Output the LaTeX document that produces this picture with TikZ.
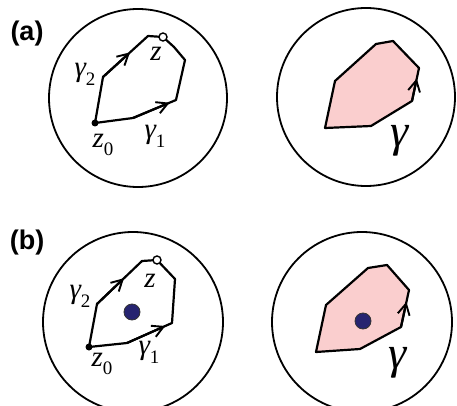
\documentclass[tikz,border=0pt]{standalone}
\usepackage{fontspec}
\setmainfont{Liberation Serif}
\newfontfamily\lblfont{Liberation Sans}
\usetikzlibrary{arrows.meta,calc}
\definecolor{pinkfill}{RGB}{250,206,206}
\definecolor{navy}{RGB}{38,36,112}
\newcommand{\lsub}[1]{\raisebox{-0.3em}{\fontsize{19}{19}\selectfont\upshape #1}}
\tikzset{
  path/.style={line width=2.2pt, line join=round},
  disc/.style={line width=1.8pt},
  dirarrow/.style={line width=2.2pt, -{Straight Barb[length=11pt,width=12pt,line width=1.9pt]}},
  startdot/.style={circle, fill=black, inner sep=0pt, minimum size=7pt},
  enddot/.style={circle, draw=black, fill=white, line width=1.4pt, inner sep=0pt, minimum size=8pt},
  pole/.style={circle, fill=navy, draw=black!80, line width=0.8pt, inner sep=0pt, minimum size=16pt},
  smalllbl/.style={font=\fontsize{29}{29}\selectfont\itshape, inner sep=0pt},
  biglbl/.style={font=\fontsize{46}{46}\selectfont\itshape, inner sep=0pt},
  panellbl/.style={font=\lblfont\fontsize{27}{27}\selectfont\bfseries, inner sep=0pt},
}
\begin{document}
\begin{tikzpicture}[x=1pt,y=-1pt]
\useasboundingbox (0,0) rectangle (457,406);
\begin{scope}
\clip (0,0) rectangle (457,406);
% ---------- panel (a) ----------
\node[panellbl] (la) at (27,34) {(a)};
\draw[disc] (138,98) circle[radius=89];
\draw[disc] (366,97) circle[radius=89];
% left: two paths
\coordinate (a0) at (95,123);
\coordinate (a1) at (103,77);
\coordinate (a2) at (148,36);
\coordinate (az) at (163,37);
\coordinate (a3) at (133,118);
\coordinate (a4) at (176,100);
\coordinate (a5) at (185,60);
\coordinate (a6) at (174,47);
\draw[path] (a0) -- (a1) -- (a2) -- (az) -- (a6) -- (a5) -- (a4) -- (a3) -- (a0);
\draw[dirarrow] (a1) -- ($(a1)!0.6!(a2)$);
\draw[dirarrow] (a3) -- ($(a3)!0.85!(a4)$);
\node[startdot] (az0) at (a0) {};
\node[enddot] (azz) at (az) {};
\node[smalllbl] (ag2) at (85,74) {γ\lsub{2}};
\node[smalllbl] (azl) at (156,54) {z};
\node[smalllbl] (az0l) at (103,145) {z\lsub{0}};
\node[smalllbl] (ag1) at (155,136) {γ\lsub{1}};
% right: polygon
\coordinate (b1) at (325,128);
\coordinate (b2) at (335,81);
\coordinate (b3) at (376,44);
\coordinate (b4) at (393,41);
\coordinate (b5) at (419,68);
\coordinate (b6) at (412,101);
\coordinate (b7) at (371,126);
\draw[path, fill=pinkfill] (b1) -- (b2) -- (b3) -- (b4) -- (b5) -- (b6) -- (b7) -- cycle;
\draw[dirarrow] (b6) -- ($(b6)!0.68!(b5)$);
\node[biglbl] (ag) at (400,141) {γ};
% ---------- panel (b) ----------
\node[panellbl] (lb) at (27,243) {(b)};
\draw[disc] (133,322) circle[radius=90];
\draw[disc] (362,322) circle[radius=90];
\coordinate (c0) at (89,347);
\coordinate (c1) at (97,304);
\coordinate (c2) at (142,261);
\coordinate (cz) at (157,260);
\coordinate (c5) at (175,279);
\coordinate (c4) at (172,323);
\coordinate (c3) at (127,343);
\draw[path] (c0) -- (c1) -- (c2) -- (cz) -- (c5) -- (c4) -- (c3) -- (c0);
\draw[dirarrow] (c1) -- ($(c1)!0.6!(c2)$);
\draw[dirarrow] (c3) -- ($(c3)!0.85!(c4)$);
\node[startdot] (cz0) at (c0) {};
\node[enddot] (czz) at (cz) {};
\node[pole] (cp) at (132,312) {};
\node[smalllbl] (cg2) at (80,296) {γ\lsub{2}};
\node[smalllbl] (czl) at (150,281) {z};
\node[smalllbl] (cz0l) at (102,364) {z\lsub{0}};
\node[smalllbl] (cg1) at (149,352) {γ\lsub{1}};
\coordinate (d1) at (316,352);
\coordinate (d2) at (326,305);
\coordinate (d3) at (368,268);
\coordinate (d4) at (387,265);
\coordinate (d5) at (409,290);
\coordinate (d6) at (401,327);
\coordinate (d7) at (360,349);
\draw[path, fill=pinkfill] (d1) -- (d2) -- (d3) -- (d4) -- (d5) -- (d6) -- (d7) -- cycle;
\draw[dirarrow] (d6) -- ($(d6)!0.68!(d5)$);
\node[pole] (dp) at (363,321) {};
\node[biglbl] (dg) at (398,363) {γ};
\end{scope}
\end{tikzpicture}
\end{document}
